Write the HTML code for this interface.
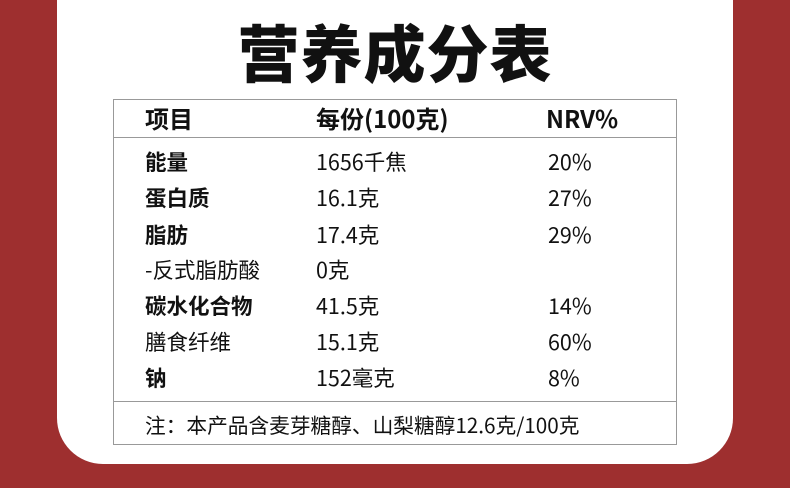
<!DOCTYPE html>
<html><head><meta charset="utf-8"><style>
body{margin:0;width:790px;height:488px;background:#9e2f2f;position:relative;overflow:hidden;font-family:"Noto Sans CJK SC","Liberation Sans",sans-serif;color:#111}
.panel{position:absolute;left:57px;top:0;width:676px;height:464px;background:#fff;border-radius:0 0 46px 46px}
.title{position:absolute;left:0;width:790px;top:10px;text-align:center;font-size:62px;font-weight:900;line-height:80px;letter-spacing:1px}
.tbl{position:absolute;left:113px;top:99px;width:562px;height:344px;border:1.5px solid #999}
.hl{position:absolute;left:0;width:100%;height:0;border-top:1.5px solid #999}
.t{position:absolute;font-size:21.5px;line-height:26px;white-space:nowrap}
.b{font-weight:bold}
</style></head><body>
<div class="panel"></div>
<div class="title">营养成分表</div>
<div class="tbl">
<div class="hl" style="top:37px"></div>
<div class="hl" style="top:301px"></div>
</div>
<div class="t b" style="left:145px;top:105px;font-size:24px">项目</div>
<div class="t b" style="left:316px;top:105px;font-size:24px">每份(100克)</div>
<div class="t b" style="left:546px;top:105px;font-size:24px">NRV%</div>

<div class="t b" style="left:145px;top:149px">能量</div><div class="t" style="left:316px;top:149px">1656千焦</div><div class="t" style="left:548px;top:149px">20%</div>
<div class="t b" style="left:145px;top:185px">蛋白质</div><div class="t" style="left:316px;top:185px">16.1克</div><div class="t" style="left:548px;top:185px">27%</div>
<div class="t b" style="left:145px;top:222px">脂肪</div><div class="t" style="left:316px;top:222px">17.4克</div><div class="t" style="left:548px;top:222px">29%</div>
<div class="t" style="left:145px;top:257px">-反式脂肪酸</div><div class="t" style="left:316px;top:257px">0克</div>
<div class="t b" style="left:145px;top:293px">碳水化合物</div><div class="t" style="left:316px;top:293px">41.5克</div><div class="t" style="left:548px;top:293px">14%</div>
<div class="t" style="left:145px;top:329px">膳食纤维</div><div class="t" style="left:316px;top:329px">15.1克</div><div class="t" style="left:548px;top:329px">60%</div>
<div class="t b" style="left:145px;top:365px">钠</div><div class="t" style="left:316px;top:365px">152毫克</div><div class="t" style="left:548px;top:365px">8%</div>
<div class="t" style="left:145px;top:411px;font-size:20.7px">注：本产品含麦芽糖醇、山梨糖醇12.6克/100克</div>
</body></html>
